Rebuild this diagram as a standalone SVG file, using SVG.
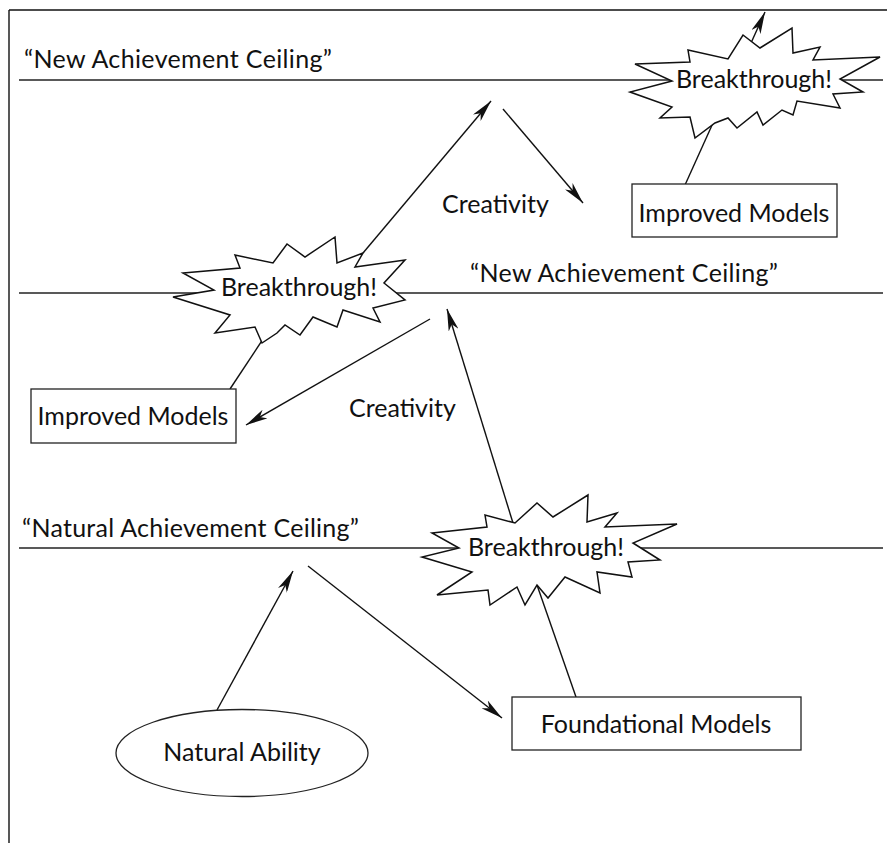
<svg xmlns="http://www.w3.org/2000/svg" width="887" height="843" viewBox="0 0 887 843">
  <style>
    .frame { stroke: #111; stroke-width: 1.4; fill: none; }
    .ceil { stroke: #222; stroke-width: 1.4; fill: none; }
    .conn { stroke: #111; stroke-width: 1.4; fill: none; }
    .box { stroke: #222; stroke-width: 1.3; fill: #fff; }
    .burst { stroke: #111; stroke-width: 1.5; fill: #fff; stroke-linejoin: miter; }
    text { font-family: Lato, "Open Sans", "Liberation Sans", sans-serif; font-size: 25px; fill: #111; }
    .mid { text-anchor: middle; }
  </style>
  <defs>
    <marker id="arrow" viewBox="0 0 22 10" refX="22" refY="5" markerWidth="22" markerHeight="10" markerUnits="userSpaceOnUse" orient="auto">
      <path d="M0,0 L22,5 L0,10 L6,5 z" fill="#111"/>
    </marker>
  </defs>

  <!-- frame -->
  <g id="frame">
    <line class="frame" x1="9" y1="10" x2="887" y2="10"/>
    <line class="frame" x1="9" y1="10" x2="9" y2="843"/>
  </g>

  <!-- ceiling lines and labels -->
  <g id="ceilings">
    <line class="ceil" x1="19" y1="80" x2="883" y2="80"/>
    <line class="ceil" x1="19" y1="293" x2="883" y2="293"/>
    <line class="ceil" x1="19" y1="548" x2="883" y2="548"/>
    <text x="24" y="68" textLength="308" lengthAdjust="spacing">“New Achievement Ceiling”</text>
    <text x="470" y="282" textLength="308" lengthAdjust="spacing">“New Achievement Ceiling”</text>
    <text x="22" y="537" textLength="337" lengthAdjust="spacing">“Natural Achievement Ceiling”</text>
  </g>

  <!-- connectors -->
  <g id="connectors">
    <line class="conn" x1="217" y1="710" x2="293" y2="571" marker-end="url(#arrow)"/>
    <line class="conn" x1="308" y1="566" x2="502" y2="718" marker-end="url(#arrow)"/>
    <line class="conn" x1="576" y1="697" x2="537" y2="585"/>
    <line class="conn" x1="513" y1="523" x2="447" y2="309" marker-end="url(#arrow)"/>
    <line class="conn" x1="430" y1="319" x2="246" y2="425" marker-end="url(#arrow)"/>
    <line class="conn" x1="230" y1="389" x2="267" y2="333"/>
    <line class="conn" x1="363" y1="253" x2="491" y2="101" marker-end="url(#arrow)"/>
    <line class="conn" x1="503" y1="109" x2="583" y2="203" marker-end="url(#arrow)"/>
    <line class="conn" x1="685" y1="185" x2="713" y2="123"/>
    <line class="conn" x1="751" y1="43" x2="765" y2="12" marker-end="url(#arrow)"/>
  </g>

  <!-- edge labels -->
  <g id="labels">
    <text x="442" y="213">Creativity</text>
    <text x="349" y="417">Creativity</text>
  </g>

  <!-- nodes -->
  <g id="natural-ability">
    <ellipse class="box" cx="242" cy="753" rx="126" ry="43.5"/>
    <text class="mid" x="242" y="761">Natural Ability</text>
  </g>
  <g id="foundational-models">
    <rect class="box" x="512" y="697" width="289" height="53"/>
    <text class="mid" x="656" y="733">Foundational Models</text>
  </g>
  <g id="breakthrough-1">
    <polygon class="burst" points="432,533 487,527 485,515 515,523 537,503 553,517 588,495 587,522 617,513 605,527 677,524 633,543 660,560 628,562 632,577 597,572 600,593 565,577 548,598 537,585 525,605 517,587 490,605 488,590 437,595 472,572 422,557 459,548"/>
    <text class="mid" x="546" y="556">Breakthrough!</text>
  </g>
  <g id="improved-models-1">
    <rect class="box" x="31" y="389" width="205" height="54"/>
    <text class="mid" x="133" y="425">Improved Models</text>
  </g>
  <g id="breakthrough-2">
    <polygon class="burst" points="183,273 240,268 235,255 273,263 287,244 305,257 335,237 337,263 363,253 355,267 405,260 384,283 405,300 373,308 380,322 343,310 337,327 313,317 300,335 285,325 277,333 262,343 255,327 215,333 230,315 173,297 214,290"/>
    <text class="mid" x="299" y="296">Breakthrough!</text>
  </g>
  <g id="improved-models-2">
    <rect class="box" x="632" y="184" width="205" height="53"/>
    <text class="mid" x="734" y="222">Improved Models</text>
  </g>
  <g id="breakthrough-3">
    <polygon class="burst" points="635,64 690,62 688,50 728,59 743,35 760,48 792,28 793,53 820,47 813,60 880,57 840,79 863,92 833,94 840,108 797,101 793,115 782,110 763,125 757,112 737,128 728,118 715,123 695,138 690,117 660,118 672,107 630,92 672,81"/>
    <text class="mid" x="754" y="88">Breakthrough!</text>
  </g>
</svg>
